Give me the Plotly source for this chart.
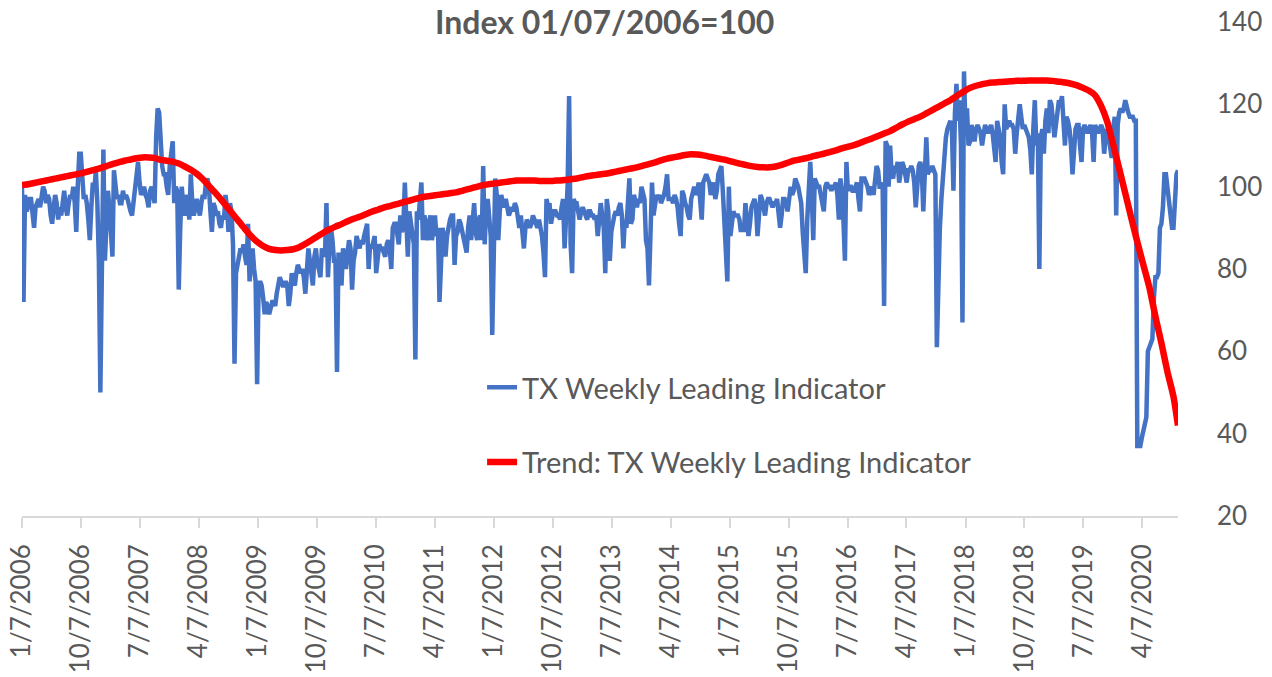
import pandas as pd
import plotly.graph_objects as go

# Weekly TX leading indicator (index, 1/7/2006 = 100), one value per week starting 1/7/2006
tx_weekly = [
    100,72,98,94,95,97,97,94,90,95,
    96,97,95,98,100,99,96,98,97,93,
    91,95,98,96,92,95,93,96,99,95,
    93,96,98,97,100,96,89,100,108,108,
    103,97,98,96,92,87,95,101,99,104,
    96,82,50,84,109,82,92,99,95,88,
    83,104,100,97,98,96,96,99,97,98,
    97,95,94,93,96,99,103,106,101,98,
    99,100,98,97,95,99,100,97,96,112,
    119,118,108,105,103,103,100,98,105,108,
    111,96,100,99,75,90,100,95,93,98,
    97,92,103,96,93,95,97,95,93,96,
    98,97,101,102,100,94,89,96,95,93,
    94,91,90,93,92,98,95,89,96,94,
    86,57,79,81,83,85,84,86,83,81,
    91,77,82,85,80,77,52,76,77,76,
    73,69,72,71,69,71,72,72,71,74,
    76,78,77,76,76,77,76,71,74,79,
    77,76,79,81,80,79,80,78,74,80,
    85,82,78,76,83,85,81,80,78,85,
    84,83,96,78,86,90,87,82,82,55,
    84,80,76,85,83,80,84,87,85,75,
    82,84,88,86,85,87,86,88,90,91,
    80,86,85,87,88,79,84,86,85,85,
    84,83,86,87,85,80,90,91,91,88,
    86,93,89,90,101,92,83,94,91,88,
    86,58,94,92,98,101,87,93,91,87,
    91,93,87,90,93,88,90,72,85,90,
    88,83,88,91,92,93,93,81,88,89,
    92,91,89,88,86,84,90,93,87,92,
    96,89,87,92,93,87,105,86,95,97,
    91,88,64,90,102,98,87,94,98,96,
    95,97,95,93,94,95,94,96,95,92,
    90,93,89,85,90,92,91,90,91,93,
    92,91,90,92,90,88,84,78,97,95,
    96,91,93,94,94,93,93,92,95,97,
    85,93,100,122,86,79,97,96,96,94,
    92,94,95,94,93,92,94,94,93,93,
    92,93,88,91,96,93,90,79,97,94,
    82,89,92,93,94,93,95,96,93,85,
    92,90,96,102,91,92,98,96,95,97,
    96,100,98,97,87,85,76,91,101,93,
    95,98,97,98,96,97,98,100,103,97,
    97,97,96,98,97,95,91,88,99,98,
    96,95,93,92,97,99,100,98,99,101,
    96,92,101,102,103,102,101,98,100,101,
    97,99,103,104,105,99,92,88,77,100,
    88,91,94,93,93,93,92,89,91,89,
    96,92,88,91,95,96,97,95,88,93,
    98,97,95,93,96,97,97,96,95,96,
    96,97,94,90,93,97,97,96,94,98,
    100,98,99,102,101,100,98,96,89,84,
    79,92,101,106,98,87,102,101,100,100,
    98,97,94,100,101,100,100,99,100,100,
    101,98,92,102,99,92,82,106,99,100,
    100,99,99,100,101,97,94,102,102,102,
    101,100,98,99,100,98,103,105,104,100,
    100,101,71,111,110,100,110,103,102,105,
    104,106,101,104,106,105,102,101,104,104,
    105,104,101,95,100,105,106,104,94,105,
    112,103,104,104,105,104,103,61,80,90,
    97,103,108,112,114,115,116,114,99,118,
    125,116,121,110,67,128,114,119,110,111,
    115,113,111,114,115,114,113,110,113,115,
    114,113,114,115,113,110,106,116,113,112,
    106,103,120,114,115,116,115,115,114,108,
    113,116,120,117,114,115,114,113,112,109,
    103,114,121,110,113,80,112,114,108,116,
    119,113,121,120,116,112,115,118,121,120,
    122,116,110,117,116,114,110,103,110,114,
    115,115,110,106,114,115,114,113,114,115,
    113,106,115,114,113,114,115,114,108,112,
    114,112,109,107,114,117,93,115,118,119,
    118,119,121,119,118,117,117,117,116,116,
    37,37,37,39,41,42,44,60,61,62,
    63,73,78,78,79,90,91,95,103,103,
    99,97,92,90,90,95,103,104,
]

# Trend values read every 4 weeks (weeks 0, 4, 8, ...), plus the final week
tx_trend = [
    100.4,100.6,100.9,101.2,101.5,101.8,102.1,102.4,102.7,103.0,
    103.3,103.7,104.1,104.5,105.0,105.5,105.9,106.3,106.6,106.9,
    107.1,107.1,107.0,106.5,106.3,106.1,105.6,104.9,104.1,103.1,
    101.8,100.2,98.6,96.9,95.1,93.3,91.5,89.7,88.0,86.6,
    85.6,84.9,84.6,84.5,84.6,84.8,85.3,86.1,87.0,87.9,
    88.8,89.6,90.3,90.9,91.6,92.2,92.7,93.3,93.9,94.4,
    94.9,95.3,95.7,96.1,96.5,96.9,97.3,97.6,97.8,98.0,
    98.2,98.4,98.6,99.0,99.4,99.8,100.2,100.5,100.7,100.9,
    101.1,101.3,101.5,101.5,101.5,101.5,101.4,101.4,101.4,101.5,
    101.6,101.8,102.0,102.3,102.6,102.8,103.0,103.2,103.5,103.8,
    104.1,104.4,104.7,105.1,105.5,105.9,106.4,106.8,107.1,107.4,
    107.7,107.9,107.8,107.6,107.3,107.0,106.7,106.4,106.0,105.6,
    105.3,105.0,104.8,104.7,104.7,104.9,105.3,105.8,106.3,106.6,
    106.9,107.3,107.7,108.0,108.4,108.8,109.3,109.7,110.1,110.6,
    111.2,111.7,112.3,112.9,113.5,114.3,115.1,115.8,116.4,117.0,
    117.8,118.6,119.4,120.2,121.0,122.0,122.9,123.8,124.4,124.8,
    125.1,125.3,125.4,125.5,125.6,125.7,125.7,125.8,125.8,125.8,
    125.8,125.7,125.5,125.3,125.0,124.6,124.0,123.3,122.2,119.6,
    115.8,110.2,104.4,98.4,92.4,86.6,81.0,75.5,68.5,62.0,
    55.0,49.0,42.0,
]

tick_labels = [
    "1/7/2006", "10/7/2006", "7/7/2007", "4/7/2008", "1/7/2009", "10/7/2009",
    "7/7/2010", "4/7/2011", "1/7/2012", "10/7/2012", "7/7/2013", "4/7/2014",
    "1/7/2015", "10/7/2015", "7/7/2016", "4/7/2017", "1/7/2018", "10/7/2018",
    "7/7/2019", "4/7/2020",
]

series_names = ["TX Weekly Leading Indicator", "Trend: TX Weekly Leading Indicator"]
title_text = "Index 01/07/2006=100"

n = len(tx_weekly)
dates = pd.date_range("2006-01-07", periods=n, freq="7D")
trend_idx = list(range(0, 4 * (len(tx_trend) - 1), 4))
trend_idx = [i for i in trend_idx if i < n - 1] + [n - 1]
trend_vals = tx_trend[:len(trend_idx) - 1] + [tx_trend[-1]]
trend_dates = [dates[i] for i in trend_idx]
tick_dates = pd.to_datetime(tick_labels, format="%m/%d/%Y")

FONT = "Lato"
GREY = "#595959"

fig = go.Figure()
fig.add_trace(go.Scatter(
    x=dates, y=tx_weekly, mode="lines", name=series_names[0],
    line=dict(color="#4472C4", width=4.5), legendgroup="a",
))
fig.add_trace(go.Scatter(
    x=trend_dates, y=trend_vals, mode="lines", name=series_names[1],
    line=dict(color="#FF0000", width=6.5, shape="spline", smoothing=0.6), legendgroup="b",
))

fig.update_layout(
    width=1272, height=677,
    margin=dict(l=22, r=94, t=22, b=161),
    paper_bgcolor="white", plot_bgcolor="white",
    font=dict(family=FONT, color=GREY, size=26),
    showlegend=True,
    legend=dict(
        x=0.398, y=0.312, xanchor="left", yanchor="top",
        bgcolor="rgba(0,0,0,0)", font=dict(size=29, color=GREY, family=FONT),
        tracegroupgap=34, itemwidth=30,
    ),
    annotations=[dict(
        text="<b>" + title_text + "</b>", xref="paper", yref="paper",
        x=0.5035, y=1.0, yshift=1, xanchor="center", yanchor="middle", showarrow=False,
        font=dict(family=FONT, size=32, color=GREY),
    )],
)

fig.update_xaxes(
    type="date", range=[dates[0], dates[-1]], automargin=False,
    tickvals=tick_dates, ticktext=tick_labels, tickangle=-90,
    showgrid=False, zeroline=False,
    showline=True, linecolor="#D9D9D9", linewidth=1.5,
    ticks="outside", ticklen=10, tickcolor="#D9D9D9", tickwidth=1.5,
    tickfont=dict(family=FONT, size=26, color=GREY),
    ticklabelstandoff=6, ticklabeloverflow="allow",
)
fig.update_yaxes(
    side="right", range=[20, 140], dtick=20, tick0=20, automargin=False,
    showgrid=False, zeroline=False, showline=False, ticks="",
    tickfont=dict(family=FONT, size=26, color=GREY),
    ticklabelstandoff=38, ticklabeloverflow="allow",
)

fig.write_html(
    "out.html",
    config={"displayModeBar": False},
    post_script="document.body.style.margin='0px';",
)
